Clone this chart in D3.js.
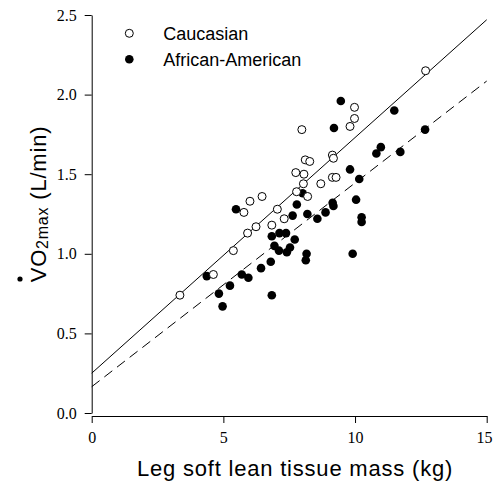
<!DOCTYPE html>
<html lang="en">
<head>
  <meta charset="UTF-8">
  <title>VO2max vs leg lean mass</title>
  <style>
    body { margin: 0; background: #fff; }
  </style>
</head>
<body>

  <script src="https://d3js.org/d3.v7.min.js"></script>
  <script>
    // Caucasian (open circles)
    const cauX = [3.35, 4.62, 5.38, 5.92, 6.24, 5.78, 6.01, 6.47, 6.84, 7.05, 7.31, 7.78, 8.20, 8.04,
      8.70, 7.75, 8.06, 8.11, 8.28, 7.98, 9.14, 9.18, 9.14, 9.28, 9.81, 9.98, 9.98, 12.68];
    const cauY = [0.74, 0.87, 1.02, 1.13, 1.17, 1.26, 1.33, 1.36, 1.18, 1.28, 1.22, 1.39, 1.36, 1.44,
      1.44, 1.51, 1.50, 1.59, 1.58, 1.78, 1.62, 1.60, 1.48, 1.48, 1.80, 1.85, 1.92, 2.15];

    // African-American (filled circles)
    const afrX = [4.37, 4.83, 4.97, 5.25, 5.48, 5.70, 5.95, 6.43, 6.80, 6.84, 6.84, 7.13, 7.38, 7.71,
      6.94, 7.11, 7.41, 7.53, 7.79, 7.63, 8.01, 8.19, 8.57, 8.88, 9.15, 9.18, 8.16, 8.13, 9.91, 10.04,
      10.25, 10.25, 9.81, 10.16, 9.20, 9.46, 10.81, 10.98, 11.49, 11.72, 12.66];
    const afrY = [0.86, 0.75, 0.67, 0.80, 1.28, 0.87, 0.85, 0.91, 0.95, 0.74, 1.11, 1.13, 1.13, 1.09,
      1.05, 1.02, 1.01, 1.04, 1.31, 1.24, 1.38, 1.25, 1.22, 1.26, 1.32, 1.30, 1.00, 0.96, 1.00, 1.34,
      1.23, 1.20, 1.53, 1.47, 1.79, 1.96, 1.63, 1.67, 1.90, 1.64, 1.78];

    // regression lines [intercept, slope]
    const cauFit = [0.25, 0.148];
    const afrFit = [0.165, 0.128];

    const xTicks = [0, 5, 10, 15];
    const yTicks = [0, 0.5, 1.0, 1.5, 2.0, 2.5];
    const legendNames = ['Caucasian', 'African-American'];

    const width = 493;
    const height = 483;

    const x = d3.scaleLinear().domain([0, 15]).range([91.7, 486.7]);
    const y = d3.scaleLinear().domain([0, 2.5]).range([413, 15]);

    const svg = d3.select('body')
      .append('svg')
      .attr('width', width)
      .attr('height', height)
      .style('background', '#fff');

    // axes
    const yAxis = d3.axisLeft(y)
      .tickValues(yTicks)
      .tickFormat(d3.format('.1f'))
      .tickSize(7)
      .tickSizeOuter(0)
      .tickPadding(8);

    const xAxis = d3.axisBottom(x)
      .tickValues(xTicks)
      .tickFormat(d3.format('d'))
      .tickSize(7)
      .tickSizeOuter(0)
      .tickPadding(9);

    const gy = svg.append('g')
      .attr('transform', `translate(${x(0)}, 0)`)
      .call(yAxis);

    const gx = svg.append('g')
      .attr('transform', 'translate(0, 416)')
      .call(xAxis);

    [gx, gy].forEach(g => {
      g.selectAll('text')
        .attr('font-family', '"Liberation Serif", "Times New Roman", serif')
        .attr('font-size', 16)
        .attr('fill', '#000');
      g.selectAll('line, path').attr('stroke', '#000');
    });

    // last x label sits against the right edge
    gx.selectAll('.tick text')
      .filter(d => d === 15)
      .attr('text-anchor', 'end')
      .attr('x', width - x(15) - 1);

    // fit lines
    const line = d3.line().x(d => x(d[0])).y(d => y(d[1]));
    const fitPts = f => [[0, f[0]], [15, f[0] + f[1] * 15]];

    svg.append('path')
      .datum(fitPts(cauFit))
      .attr('d', line)
      .attr('fill', 'none')
      .attr('stroke', '#000')
      .attr('stroke-width', 1);

    svg.append('path')
      .datum(fitPts(afrFit))
      .attr('d', line)
      .attr('fill', 'none')
      .attr('stroke', '#000')
      .attr('stroke-width', 1)
      .attr('stroke-dasharray', '10,6');

    // points
    svg.append('g')
      .selectAll('circle')
      .data(afrX.map((d, i) => [d, afrY[i]]))
      .join('circle')
      .attr('cx', d => x(d[0]))
      .attr('cy', d => y(d[1]))
      .attr('r', 4.3)
      .attr('fill', '#000');

    svg.append('g')
      .selectAll('circle')
      .data(cauX.map((d, i) => [d, cauY[i]]))
      .join('circle')
      .attr('cx', d => x(d[0]))
      .attr('cy', d => y(d[1]))
      .attr('r', 4)
      .attr('fill', '#fff')
      .attr('stroke', '#000')
      .attr('stroke-width', 1);

    // legend
    const legend = svg.append('g').attr('transform', 'translate(129.3, 33.3)');
    legendNames.forEach((name, i) => {
      const row = legend.append('g').attr('transform', `translate(0, ${i * 26})`);
      row.append('circle')
        .attr('r', i === 0 ? 4 : 4.3)
        .attr('fill', i === 0 ? '#fff' : '#000')
        .attr('stroke', i === 0 ? '#000' : 'none');
      row.append('text')
        .attr('x', 34)
        .attr('y', 7)
        .attr('font-family', '"Liberation Sans", Arial, sans-serif')
        .attr('font-size', 18)
        .text(name);
    });

    // axis titles
    svg.append('text')
      .attr('x', 295)
      .attr('y', 476)
      .attr('text-anchor', 'middle')
      .attr('font-family', '"Liberation Sans", Arial, sans-serif')
      .attr('font-size', 22)
      .attr('letter-spacing', 0.8)
      .text('Leg soft lean tissue mass (kg)');

    const yt = svg.append('text')
      .attr('transform', 'translate(46, 204) rotate(-90)')
      .attr('text-anchor', 'middle')
      .attr('font-family', '"Liberation Sans", Arial, sans-serif')
      .attr('font-size', 22)
      .attr('letter-spacing', 0.8);
    yt.append('tspan').text('VO');
    yt.append('tspan').attr('font-size', 16).attr('dy', 2).text('2max');
    yt.append('tspan').attr('dy', -2).text(' (L/min)');

    // dot over the V
    svg.append('circle')
      .attr('cx', 20)
      .attr('cy', 279)
      .attr('r', 2.6)
      .attr('fill', '#000');
  </script>

</body>
</html>
